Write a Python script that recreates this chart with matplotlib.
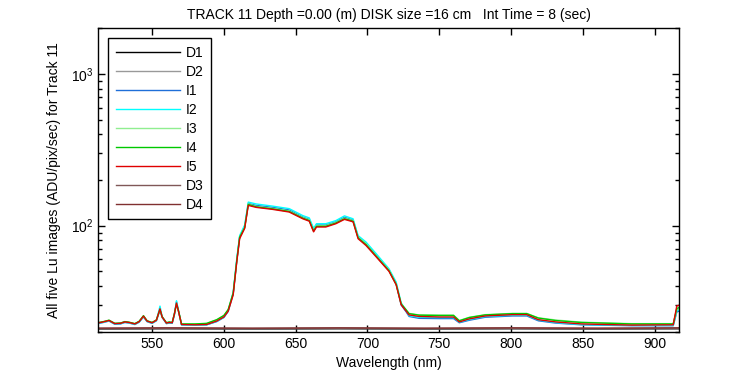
import matplotlib
matplotlib.use("Agg")
import matplotlib.pyplot as plt
from matplotlib.ticker import LogLocator, LogFormatterMathtext, NullFormatter

plt.rcParams['font.family'] = ['Liberation Sans', 'DejaVu Sans']
plt.rcParams['mathtext.default'] = 'regular'

# wavelength grid for the Lu images (nm)
wl = [505, 512, 516, 520, 524, 528, 531, 534, 538, 541,
      544, 546.5, 550, 553, 555.5, 557, 560, 562, 564, 565.5,
      567, 568.5, 570.5, 580, 588, 595, 600, 603, 606.5, 609,
      611, 614.5, 617, 622.5, 634, 645.5, 655, 659.5, 662.5, 664.5,
      671, 678, 684, 690, 693.5, 699, 706, 715, 720, 723.5,
      727, 729, 736, 750, 760, 764, 771, 782, 801, 811,
      819, 831, 849, 884, 913, 915.5, 918]

I1 = [22.7, 22.6, 23.0, 23.5, 22.4, 22.5, 23.0, 22.8, 22.3, 23.1,
      25.0, 23.3, 22.7, 23.6, 27.8, 24.8, 22.6, 22.8, 22.7, 25.8,
      31.5, 27.0, 22.2, 22.1, 22.2, 23.3, 24.8, 27.2, 35.5, 59.0,
      84.5, 99.0, 140.0, 136.0, 132.0, 127.0, 114.0, 110.0, 94.0, 101.0,
      101.0, 106.0, 113.5, 109.0, 84.5, 76.0, 64.0, 51.0, 41.5, 30.0,
      27.0, 25.2, 24.5, 24.4, 24.4, 22.9, 23.8, 24.9, 25.4, 25.4,
      23.6, 22.8, 22.2, 21.9, 21.9, 27.0, 27.5]
I2 = [22.9, 22.7, 23.1, 23.6, 22.5, 22.6, 23.1, 22.9, 22.4, 23.2,
      25.1, 23.4, 22.8, 23.7, 29.5, 25.2, 22.7, 22.9, 22.8, 25.9,
      32.0, 27.3, 22.2, 22.1, 22.2, 23.4, 24.9, 27.5, 36.5, 61.0,
      86.0, 101.0, 143.0, 139.0, 134.5, 129.5, 116.5, 112.5, 96.0, 103.0,
      103.0, 108.0, 116.0, 111.0, 86.0, 78.0, 65.5, 52.0, 42.5, 31.0,
      27.5, 25.5, 24.9, 24.8, 24.8, 23.1, 24.1, 25.2, 25.7, 25.7,
      23.9, 23.0, 22.3, 22.0, 22.0, 27.5, 28.0]
I3 = [23.0, 22.9, 23.2, 23.8, 22.7, 22.8, 23.3, 23.0, 22.6, 23.4,
      25.4, 23.6, 23.0, 23.9, 28.1, 25.0, 22.9, 23.1, 23.0, 26.1,
      30.6, 27.1, 22.4, 22.4, 22.6, 23.9, 25.5, 27.8, 35.8, 58.8,
      84.0, 97.5, 139.0, 134.0, 130.0, 125.0, 113.0, 109.0, 93.0, 100.0,
      100.0, 105.0, 112.0, 108.0, 84.0, 76.0, 63.5, 51.0, 41.3, 30.6,
      27.9, 26.4, 25.8, 25.7, 25.7, 23.7, 24.9, 25.9, 26.4, 26.4,
      24.7, 23.9, 23.1, 22.6, 22.6, 28.0, 28.5]
I4 = [23.1, 22.9, 23.3, 23.8, 22.7, 22.8, 23.3, 23.1, 22.6, 23.4,
      25.5, 23.6, 23.0, 23.9, 28.0, 25.1, 22.9, 23.2, 23.0, 26.2,
      30.5, 27.2, 22.5, 22.5, 22.7, 24.0, 25.6, 28.0, 36.0, 59.0,
      84.0, 97.0, 138.0, 133.0, 129.0, 124.0, 112.0, 108.0, 92.0, 99.0,
      99.0, 104.0, 111.0, 107.0, 83.0, 75.0, 63.0, 50.5, 41.0, 30.5,
      27.8, 26.3, 25.7, 25.6, 25.6, 23.6, 24.8, 25.8, 26.3, 26.3,
      24.6, 23.7, 23.0, 22.5, 22.5, 28.5, 29.0]
I5 = [23.0, 22.8, 23.2, 23.7, 22.6, 22.7, 23.2, 23.0, 22.5, 23.3,
      25.3, 23.5, 22.9, 23.8, 28.3, 25.0, 22.8, 23.0, 22.9, 26.0,
      30.9, 27.0, 22.3, 22.2, 22.3, 23.5, 25.0, 27.3, 35.0, 57.8,
      82.0, 96.0, 136.0, 132.0, 128.0, 123.0, 111.0, 107.0, 91.0, 98.0,
      98.0, 103.0, 110.0, 106.0, 82.0, 74.0, 62.4, 50.0, 40.8, 30.1,
      27.3, 25.8, 25.2, 25.0, 25.0, 23.2, 24.3, 25.4, 25.9, 25.9,
      24.0, 23.2, 22.5, 22.1, 22.2, 29.6, 30.0]

# dark frames
wl_dark = [505, 560, 620, 680, 740, 800, 860, 918]
D1 = [20.8, 20.9, 20.8, 20.9, 20.8, 20.9, 20.8, 20.9]
D2 = [20.9, 21.0, 20.9, 21.0, 20.9, 21.0, 20.9, 21.0]
D3 = [21.0, 21.1, 21.0, 21.1, 21.0, 21.1, 21.0, 21.1]
D4 = [21.1, 21.2, 21.1, 21.2, 21.1, 21.2, 21.1, 21.2]

fig = plt.figure(figsize=(7.5, 3.75), dpi=100)
ax = fig.add_axes([0.131, 0.1155, 0.7743, 0.809])

lw = 1.0
ax.plot(wl_dark, D1, color='black', lw=lw, label='D1')
ax.plot(wl_dark, D2, color='#999999', lw=lw, label='D2')
ax.plot(wl, I1, color='#1f6fd8', lw=lw, label='I1')
ax.plot(wl, I2, color='#00ffff', lw=lw, label='I2')
ax.plot(wl, I3, color='#90ee90', lw=lw, label='I3')
ax.plot(wl, I4, color='#00c800', lw=lw, label='I4')
ax.plot(wl, I5, color='#e00000', lw=lw, label='I5')
ax.plot(wl_dark, D3, color='#805858', lw=lw, label='D3')
ax.plot(wl_dark, D4, color='#803030', lw=lw, label='D4')

ax.set_yscale('log')
ax.set_xlim(512.5, 917)
ax.set_ylim(20, 2000)
ax.set_xticks([550, 600, 650, 700, 750, 800, 850, 900])
ax.yaxis.set_major_locator(LogLocator(base=10))
ax.yaxis.set_major_formatter(LogFormatterMathtext())
ax.yaxis.set_minor_locator(LogLocator(base=10, subs=range(2, 10)))
ax.yaxis.set_minor_formatter(NullFormatter())
ax.tick_params(which='both', direction='in', top=True, right=True,
               labelsize=10, width=1, colors='black')
ax.tick_params(which='major', length=5)
ax.tick_params(which='minor', length=3)
for s in ax.spines.values():
    s.set_linewidth(1)

ax.set_title('TRACK 11 Depth =0.00 (m) DISK size =16 cm   Int Time = 8 (sec)',
             fontsize=10, pad=7)
ax.set_xlabel('Wavelength (nm)', fontsize=10, labelpad=4)
ax.set_ylabel('All five Lu images (ADU/pix/sec) for Track 11', fontsize=10,
              labelpad=7)

leg = ax.legend(loc='upper left', fontsize=10, handlelength=4.6,
                handletextpad=0.45, labelspacing=0.36, borderpad=0.55,
                borderaxespad=0.7, fancybox=False, framealpha=1,
                edgecolor='black')
leg.get_frame().set_linewidth(1)

fig.savefig('out.png', dpi=100)
